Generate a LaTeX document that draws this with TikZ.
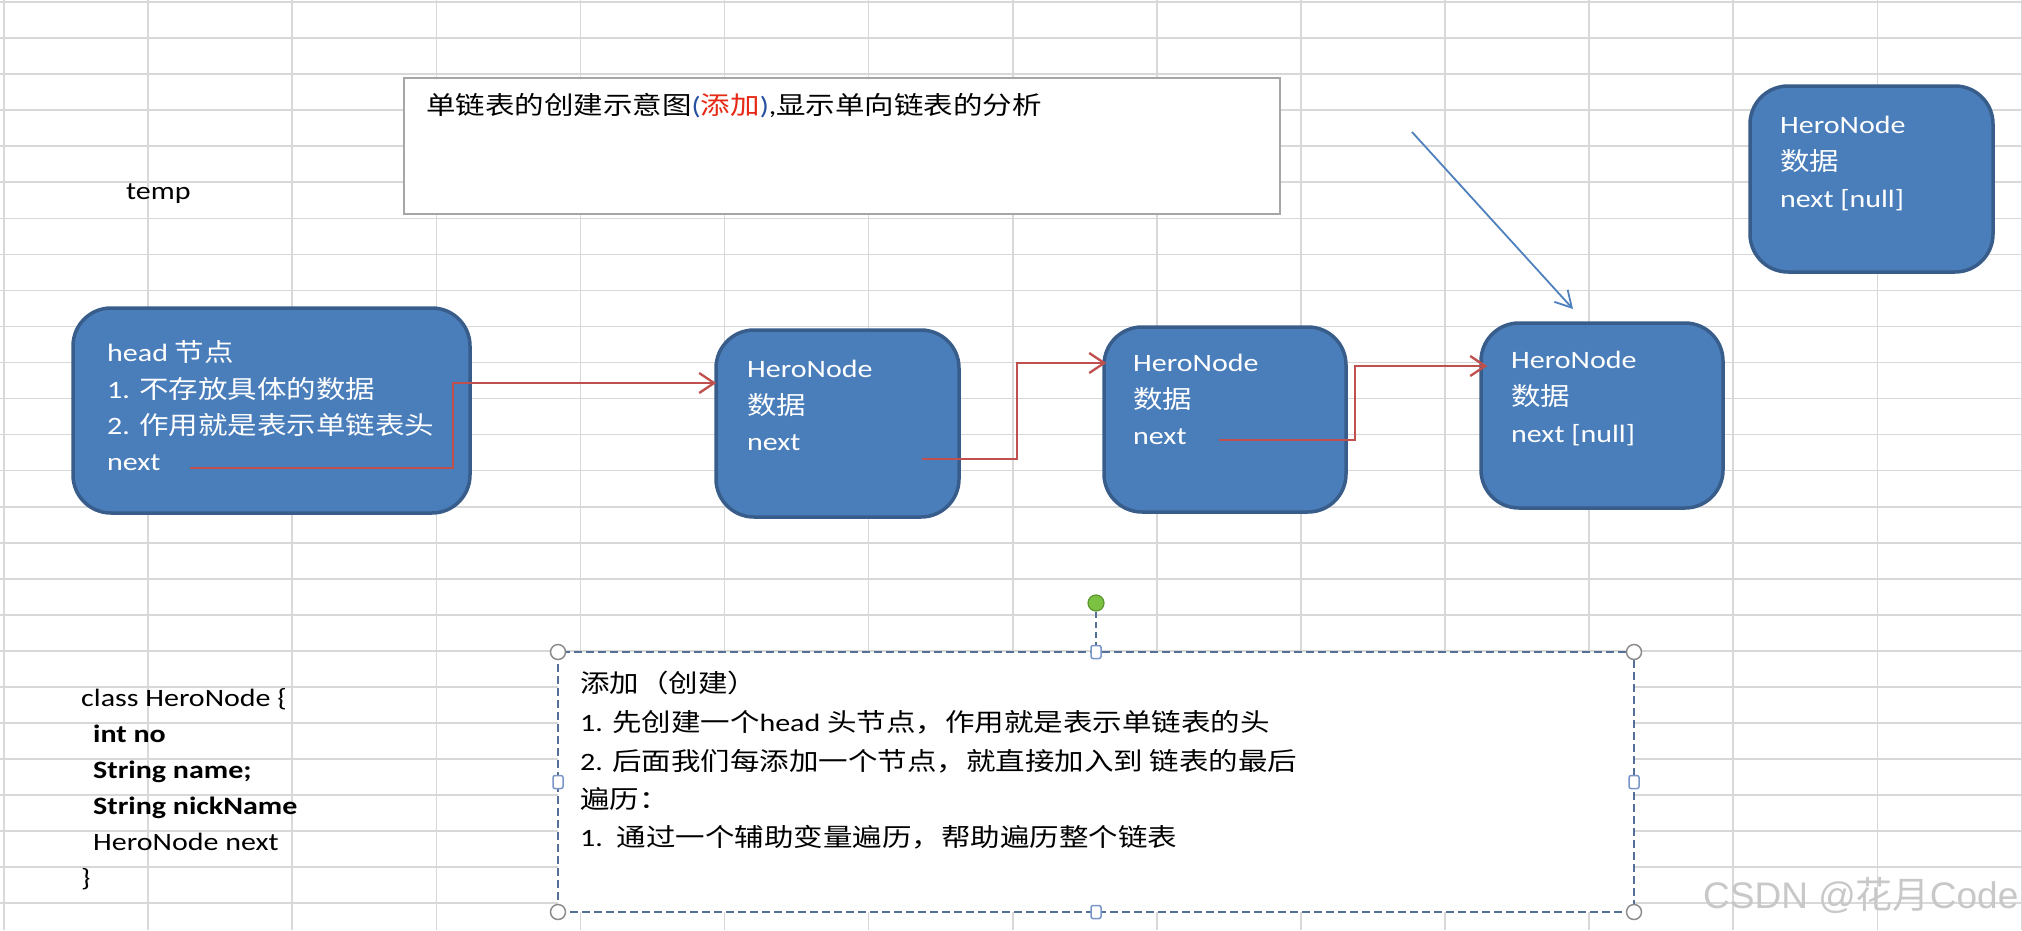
\documentclass[tikz,border=0pt]{standalone}
\usepackage{fontspec}
\setmainfont[FakeStretch=1.2]{Carlito}
\newfontfamily\cjk[FakeStretch=1.18]{Noto Sans CJK SC}
\newfontfamily\wmfont{Liberation Sans}
\newfontfamily\wmcjk{Noto Sans CJK SC}
\usetikzlibrary{arrows.meta}
\definecolor{gridc}{RGB}{216,216,216}
\definecolor{boxfill}{RGB}{74,126,187}
\definecolor{boxline}{RGB}{56,93,138}
\definecolor{redline}{RGB}{192,80,77}
\definecolor{blueline}{RGB}{79,129,189}
\definecolor{titleframe}{RGB}{166,166,166}
\definecolor{selframe}{RGB}{84,112,148}
\definecolor{handlec}{RGB}{140,140,140}
\definecolor{sqc}{RGB}{120,150,200}
\definecolor{greenf}{RGB}{124,194,66}
\definecolor{greend}{RGB}{90,150,45}
\definecolor{tred}{RGB}{230,40,20}
\definecolor{tblue}{RGB}{40,80,160}
\definecolor{wmc}{RGB}{200,200,200}
\tikzset{
  gridline/.style={draw=gridc, line width=1.6},
  heroBox/.style={draw=boxline, fill=boxfill, line width=3.5, rounded corners=38, inner sep=0},
  wline/.style={anchor=base west, inner sep=0, text=white, font=\fontsize{25}{30}\selectfont},
  kline/.style={anchor=base west, inner sep=0, text=black, font=\fontsize{25}{30}\selectfont},
  nextArrow/.style={draw=redline, line width=2.3, -{Straight Barb[length=15pt,width=20pt]}},
  ptrArrow/.style={draw=blueline, line width=1.8, -{Straight Barb[length=16pt,width=18pt]}},
  titleBox/.style={draw=titleframe, fill=white, line width=1.5, inner sep=0},
  selBox/.style={draw=selframe, fill=white, line width=2, dash pattern=on 8pt off 4pt, inner sep=0},
  cornerH/.style={circle, draw=handlec, fill=white, line width=1.5, minimum size=15, inner sep=0},
  sideH/.style={rectangle, rounded corners=2, draw=sqc, fill=white, line width=1.5, minimum width=10, minimum height=13, inner sep=0},
  rotH/.style={circle, draw=greend, fill=greenf, line width=1.2, minimum size=16, inner sep=0},
}
\begin{document}
\begin{tikzpicture}[x=1pt,y=-1pt]
\useasboundingbox (0,0) rectangle (2022,930);
\fill[white] (0,0) rectangle (2022,930);
% spreadsheet grid
\foreach \k in {0,...,14} \draw[gridline] ({4+144.1*\k},0) -- ({4+144.1*\k},930);
\foreach \k in {0,...,25} \draw[gridline] (0,{2+36.05*\k}) -- (2022,{2+36.05*\k});

% title
\node[titleBox, minimum width=876, minimum height=136] (title) at (842,146) {};
\node[kline] (titletext) at (426,114) {{\cjk 单链表的创建示意图}{\color{tblue}(}{\cjk\color{tred}添加}{\color{tblue})},{\cjk 显示单向链表的分析}};

% temp
\node[kline] (temp) at (126,199) {temp};

% head node
\node[heroBox, minimum width=397, minimum height=205] (head) at (271.5,410.5) {};
\node[wline] (h1) at (107,361) {head {\cjk 节点}};
\node[wline] (h2) at (107,398) {1. {\cjk 不存放具体的数据}};
\node[wline] (h3) at (107,434) {2. {\cjk 作用就是表示单链表头}};
\node[wline] (h4) at (107,470) {next};

% node A
\node[heroBox, minimum width=243, minimum height=187] (a) at (837.5,423.5) {};
\node[wline] (a1) at (747,377) {HeroNode};
\node[wline] (a2) at (747,414) {\cjk 数据};
\node[wline] (a3) at (747,450) {next};

% node B
\node[heroBox, minimum width=242, minimum height=185] (b) at (1225,419.5) {};
\node[wline] (b1) at (1133,371) {HeroNode};
\node[wline] (b2) at (1133,408) {\cjk 数据};
\node[wline] (b3) at (1133,444) {next};

% node C
\node[heroBox, minimum width=242, minimum height=185] (c) at (1602,415.5) {};
\node[wline] (c1) at (1511,368) {HeroNode};
\node[wline] (c2) at (1511,405) {\cjk 数据};
\node[wline] (c3) at (1511,442) {next [null]};

% new node D
\node[heroBox, minimum width=243, minimum height=186] (d) at (1871.5,179) {};
\node[wline] (d1) at (1780,133) {HeroNode};
\node[wline] (d2) at (1780,170) {\cjk 数据};
\node[wline] (d3) at (1780,207) {next [null]};

% next pointers
\coordinate (hnext) at (190,468);
\coordinate (anext) at (922,459);
\coordinate (bnext) at (1219,440);
\draw[nextArrow] (hnext) -- (453,468) |- ([xshift=2]a.west |- 0,383);
\draw[nextArrow] (anext) -- (1017,459) |- ([xshift=4]b.west |- 0,363);
\draw[nextArrow] (bnext) -- (1355,440) |- ([xshift=8]c.west |- 0,366);

% blue pointer
\coordinate (ptrstart) at (1412,132);
\coordinate (ptrend) at (1573,309);
\draw[ptrArrow] (ptrstart) -- (ptrend);

% class text
\node[kline] (k1) at (81,706) {class HeroNode \{};
\node[kline] (k2) at (93,742) {\textbf{int no}};
\node[kline] (k3) at (93,778) {\textbf{String name;}};
\node[kline] (k4) at (93,814) {\textbf{String nickName}};
\node[kline] (k5) at (93,850) {HeroNode next};
\node[kline] (k6) at (81,886) {\}};

% selected text box
\node[selBox, minimum width=1076, minimum height=260] (sel) at (1096,782) {};
\node[kline] (s1) at (580,692) {\cjk 添加（创建）};
\node[kline] (s2) at (580,731) {1. {\cjk 先创建一个}head {\cjk 头节点，作用就是表示单链表的头}};
\node[kline] (s3) at (580,770) {2. {\cjk 后面我们每添加一个节点，就直接加入到 链表的最后}};
\node[kline] (s4) at (580,808) {\cjk 遍历：};
\node[kline] (s5) at (580,846) {1.\ \ {\cjk 通过一个辅助变量遍历，帮助遍历整个链表}};

% handles
\node[sideH] (sqt) at (1096,652) {};
\node[sideH] (sqb) at (1096,912) {};
\node[sideH] (sql) at (558,782) {};
\node[sideH] (sqr) at (1634,782) {};
\node[cornerH] (ctl) at (558,652) {};
\node[cornerH] (ctr) at (1634,652) {};
\node[cornerH] (cbl) at (558,912) {};
\node[cornerH] (cbr) at (1634,912) {};
\node[rotH] (rot) at (1096,603) {};
\draw[draw=selframe, line width=1.5, dash pattern=on 6pt off 4pt] (rot) -- (sqt);

% watermark
\node[anchor=base west, inner sep=0, text=wmc, font=\fontsize{37}{40}\selectfont] (wm) at (1703,908) {{\wmfont CSDN @}{\wmcjk 花月}{\wmfont Code}};
\end{tikzpicture}
\end{document}
